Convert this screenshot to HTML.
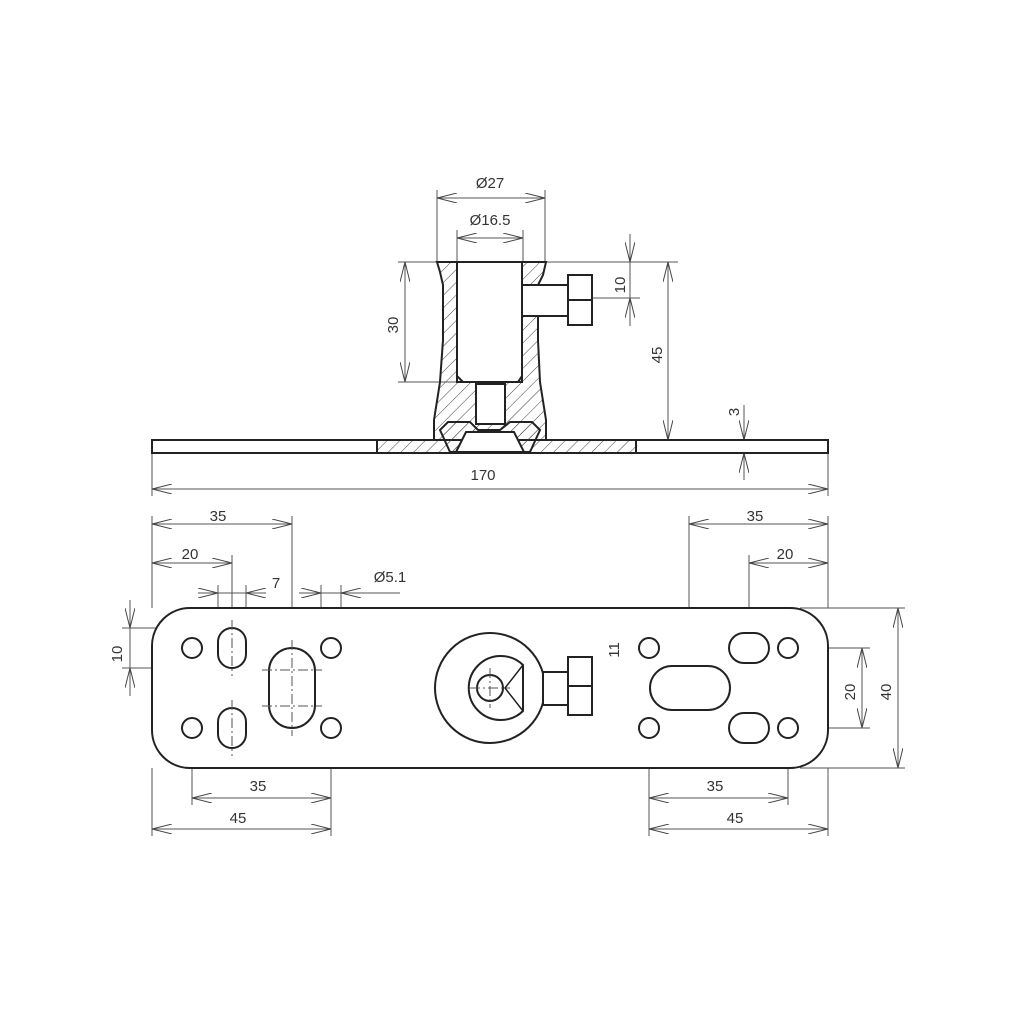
<!DOCTYPE html>
<html><head><meta charset="utf-8"><style>body{margin:0;background:#fff}svg{display:block}text{font-family:"Liberation Sans",sans-serif;font-size:15px;fill:#333}</style></head><body>
<svg width="1010" height="1010" viewBox="0 0 1010 1010" xmlns="http://www.w3.org/2000/svg">
<defs>
<pattern id="h" width="9" height="9" patternUnits="userSpaceOnUse" patternTransform="rotate(45)"><line x1="0" y1="0" x2="0" y2="9" stroke="#444" stroke-width="1"/></pattern>
<marker id="a" viewBox="0 0 20 10" refX="20" refY="5" markerWidth="20" markerHeight="10" markerUnits="userSpaceOnUse" orient="auto-start-reverse"><path d="M0,0 L20,5 L0,10" fill="none" stroke="#444" stroke-width="1"/></marker>
</defs>
<g fill="none" stroke="#555" stroke-width="1">
<!-- top view extension lines -->
<line x1="437" y1="190" x2="437" y2="262"/><line x1="545" y1="190" x2="545" y2="262"/>
<line x1="457" y1="230" x2="457" y2="262"/><line x1="523" y1="230" x2="523" y2="262"/>
<line x1="398" y1="262" x2="678" y2="262"/><line x1="398" y1="382" x2="460" y2="382"/>
<line x1="592" y1="298" x2="640" y2="298"/>
<line x1="828" y1="440" x2="752" y2="440"/><line x1="828" y1="453" x2="752" y2="453"/>
<line x1="152" y1="453" x2="152" y2="496"/><line x1="828" y1="453" x2="828" y2="496"/>
</g>
<g fill="none" stroke="#555" stroke-width="1" marker-start="url(#a)" marker-end="url(#a)">
<line x1="437" y1="198" x2="545" y2="198"/>
<line x1="457" y1="238" x2="523" y2="238"/>
<line x1="405" y1="262" x2="405" y2="382"/>
<line x1="668" y1="262" x2="668" y2="440"/>
<line x1="152" y1="489" x2="828" y2="489"/>
</g>
<g fill="none" stroke="#555" stroke-width="1">
<line x1="630" y1="234" x2="630" y2="262" marker-end="url(#a)"/><line x1="630" y1="326" x2="630" y2="298" marker-end="url(#a)"/><line x1="630" y1="262" x2="630" y2="298"/>
<line x1="744" y1="405" x2="744" y2="440" marker-end="url(#a)"/><line x1="744" y1="480" x2="744" y2="453" marker-end="url(#a)"/>
</g>
<!-- top drawing -->
<g stroke="#222" stroke-width="2">
<rect x="152" y="440" width="676" height="13" fill="#fff"/>
<rect x="377" y="440" width="259" height="13" fill="url(#h)"/>
<path d="M437,262 L457,262 L457,382 L522,382 L522,262 L546,262 L543,275 L538,285 L538,340 L540,382 L546,420 L546,440 L434,440 L434,420 L440,382 L443,340 L443,285 L440,272 Z" fill="url(#h)"/>
<path d="M457,262 L457,376 L463,382 L518,382 L522,376 L522,262 Z" fill="#fff"/>
<rect x="476" y="384" width="29" height="40" fill="#fff"/>
<path d="M448,422 L470,422 L478,430 L500,430 L510,422 L532,422 L540,430 L530,452 L450,452 L440,430 Z" fill="url(#h)"/>
<path d="M466,432 L514,432 L524,452 L456,452 Z" fill="#fff"/>
<rect x="522" y="285" width="46" height="31" fill="#fff"/>
<rect x="568" y="275" width="24" height="50" fill="#fff"/>
<line x1="568" y1="300" x2="592" y2="300"/>
</g>
<text x="490" y="188" text-anchor="middle">Ø27</text>
<text x="490" y="225" text-anchor="middle">Ø16.5</text>
<text x="483" y="480" text-anchor="middle">170</text>
<text transform="translate(398,325) rotate(-90)" text-anchor="middle">30</text>
<text transform="translate(625,285) rotate(-90)" text-anchor="middle">10</text>
<text transform="translate(662,355) rotate(-90)" text-anchor="middle">45</text>
<text transform="translate(739,412) rotate(-90)" text-anchor="middle">3</text>
<!-- bottom view dims -->
<g fill="none" stroke="#555" stroke-width="1">
<line x1="152" y1="516" x2="152" y2="608"/><line x1="292" y1="516" x2="292" y2="700"/>
<line x1="232" y1="555" x2="232" y2="668"/>
<line x1="218" y1="585" x2="218" y2="640"/><line x1="246" y1="585" x2="246" y2="640"/>
<line x1="321" y1="585" x2="321" y2="648"/><line x1="341" y1="585" x2="341" y2="648"/>
<line x1="341" y1="593" x2="400" y2="593"/>
<line x1="122" y1="628" x2="230" y2="628"/><line x1="122" y1="668" x2="230" y2="668"/>
<line x1="152" y1="768" x2="152" y2="836"/><line x1="192" y1="728" x2="192" y2="805"/><line x1="331" y1="728" x2="331" y2="836"/>
<line x1="689" y1="516" x2="689" y2="720"/><line x1="828" y1="516" x2="828" y2="608"/><line x1="749" y1="555" x2="749" y2="740"/>
<line x1="620" y1="666" x2="700" y2="666"/><line x1="620" y1="710" x2="700" y2="710"/>
<line x1="800" y1="608" x2="905" y2="608"/><line x1="800" y1="768" x2="905" y2="768"/>
<line x1="800" y1="648" x2="870" y2="648"/><line x1="800" y1="728" x2="870" y2="728"/>
<line x1="649" y1="728" x2="649" y2="836"/><line x1="788" y1="728" x2="788" y2="805"/><line x1="828" y1="768" x2="828" y2="836"/>
<line x1="218" y1="593" x2="246" y2="593"/><line x1="321" y1="593" x2="341" y2="593"/>
<line x1="130" y1="628" x2="130" y2="668"/><line x1="627" y1="666" x2="627" y2="710"/>
<line x1="198" y1="593" x2="218" y2="593" marker-end="url(#a)"/><line x1="266" y1="593" x2="246" y2="593" marker-end="url(#a)"/>
<line x1="299" y1="593" x2="321" y2="593" marker-end="url(#a)"/><line x1="362" y1="593" x2="341" y2="593" marker-end="url(#a)"/>
<line x1="130" y1="600" x2="130" y2="628" marker-end="url(#a)"/><line x1="130" y1="696" x2="130" y2="668" marker-end="url(#a)"/>
<line x1="627" y1="638" x2="627" y2="666" marker-end="url(#a)"/><line x1="627" y1="738" x2="627" y2="710" marker-end="url(#a)"/>
</g>
<g fill="none" stroke="#555" stroke-width="1" marker-start="url(#a)" marker-end="url(#a)">
<line x1="152" y1="524" x2="292" y2="524"/><line x1="152" y1="563" x2="232" y2="563"/>
<line x1="192" y1="798" x2="331" y2="798"/><line x1="152" y1="829" x2="331" y2="829"/>
<line x1="689" y1="524" x2="828" y2="524"/><line x1="749" y1="563" x2="828" y2="563"/>
<line x1="649" y1="798" x2="788" y2="798"/><line x1="649" y1="829" x2="828" y2="829"/>
<line x1="862" y1="648" x2="862" y2="728"/><line x1="898" y1="608" x2="898" y2="768"/>
</g>
<!-- plate -->
<g stroke="#222" stroke-width="2" fill="#fff">
<rect x="152" y="608" width="676" height="160" rx="38"/>
<circle cx="192" cy="648" r="10"/><circle cx="192" cy="728" r="10"/><circle cx="331" cy="648" r="10"/><circle cx="331" cy="728" r="10"/>
<circle cx="649" cy="648" r="10"/><circle cx="649" cy="728" r="10"/><circle cx="788" cy="648" r="10"/><circle cx="788" cy="728" r="10"/>
<rect x="218" y="628" width="28" height="40" rx="14"/><rect x="218" y="708" width="28" height="40" rx="14"/>
<rect x="269" y="648" width="46" height="80" rx="23"/>
<rect x="650" y="666" width="80" height="44" rx="22"/>
<rect x="729" y="633" width="40" height="30" rx="15"/><rect x="729" y="713" width="40" height="30" rx="15"/>
<circle cx="490" cy="688" r="55"/>
<path d="M523,665 A32,32 0 1 0 523,711 Z"/>
<circle cx="490" cy="688" r="13"/>
<path d="M523,665 L505,688 L523,711" fill="none" stroke-width="1.5"/>
<rect x="543" y="672" width="25" height="33"/>
<rect x="568" y="657" width="24" height="58"/>
<line x1="568" y1="686" x2="592" y2="686"/>
</g>
<g stroke="#555" stroke-width="1" stroke-dasharray="10,3,2,3">
<line x1="232" y1="620" x2="232" y2="676"/><line x1="232" y1="700" x2="232" y2="756"/>
<line x1="292" y1="640" x2="292" y2="736"/><line x1="262" y1="670" x2="322" y2="670"/><line x1="262" y1="706" x2="322" y2="706"/>
<line x1="470" y1="688" x2="510" y2="688"/><line x1="490" y1="668" x2="490" y2="708"/>
</g>
<text x="218" y="521" text-anchor="middle">35</text>
<text x="190" y="559" text-anchor="middle">20</text>
<text x="276" y="588" text-anchor="middle">7</text>
<text x="390" y="582" text-anchor="middle">Ø5.1</text>
<text x="258" y="791" text-anchor="middle">35</text>
<text x="238" y="823" text-anchor="middle">45</text>
<text x="755" y="521" text-anchor="middle">35</text>
<text x="785" y="559" text-anchor="middle">20</text>
<text x="715" y="791" text-anchor="middle">35</text>
<text x="735" y="823" text-anchor="middle">45</text>
<text transform="translate(122,654) rotate(-90)" text-anchor="middle">10</text>
<text transform="translate(619,650) rotate(-90)" text-anchor="middle">11</text>
<text transform="translate(855,692) rotate(-90)" text-anchor="middle">20</text>
<text transform="translate(891,692) rotate(-90)" text-anchor="middle">40</text>
</svg>
</body></html>
